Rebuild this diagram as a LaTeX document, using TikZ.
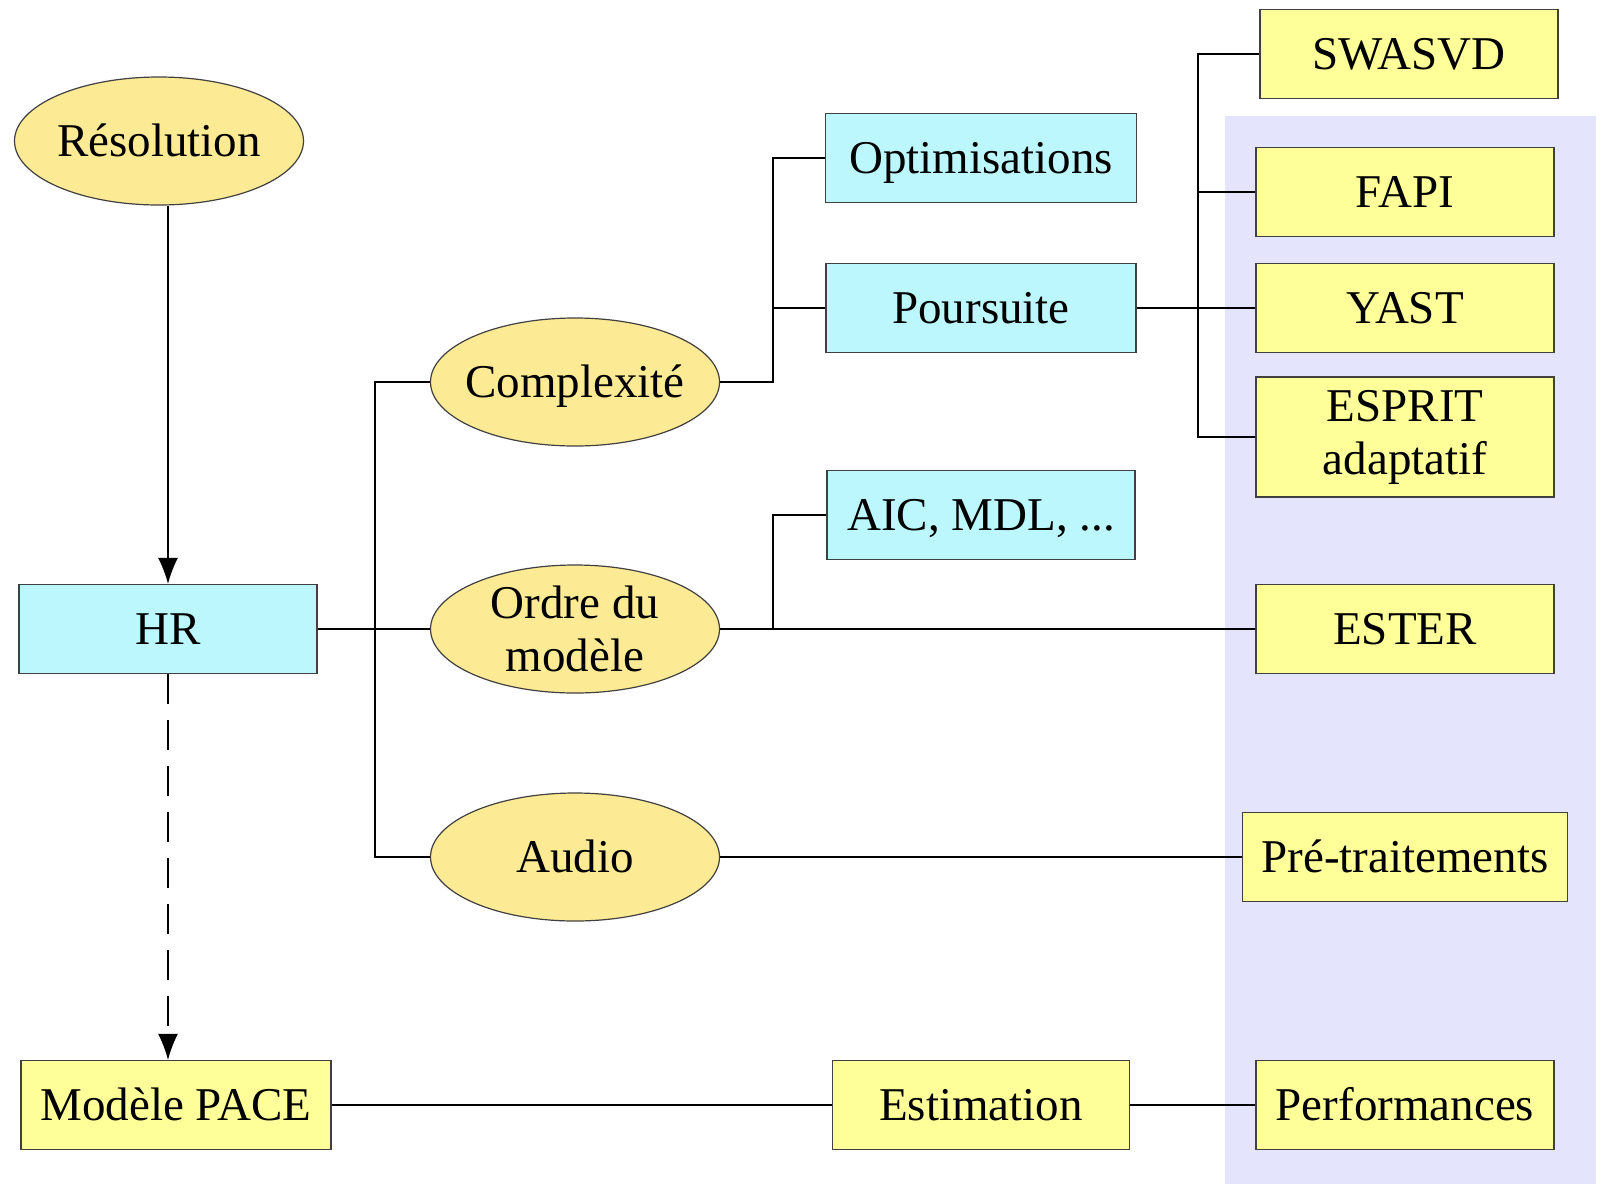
\documentclass[tikz,border=0pt]{standalone}
\usepackage{fontspec}
\setmainfont{Liberation Serif}
\usetikzlibrary{shapes.geometric,arrows.meta}

\definecolor{cyanbox}{RGB}{187,247,252}
\definecolor{yellowbox}{RGB}{255,255,153}
\definecolor{bubblefill}{RGB}{253,234,148}
\definecolor{lavender}{RGB}{228,228,252}

\tikzset{
  box/.style={draw=black!75, line width=1.2pt, minimum height=89, inner sep=0, align=center,
    text height=37pt, text depth=6pt},
  cbox/.style={box, fill=cyanbox},
  ybox/.style={box, fill=yellowbox},
  bubble/.style={ellipse, draw=black!75, line width=1.2pt, fill=bubblefill,
    minimum width=289, minimum height=128, inner sep=0},
  word/.style={text height=37pt, text depth=6pt},
  link/.style={line width=1.4pt},
  arr/.style={link, -{Latex[length=26pt,width=20pt]}}
}

\begin{document}
\begin{tikzpicture}[x=1pt, y=-1pt, font=\fontsize{47}{53}\selectfont]
    \useasboundingbox (0,0) rectangle (1602,1184);
    \fill[lavender] (1225,116) rectangle (1596,1184);

    % left column
    \node[bubble, label={[word]center:Résolution}] (resol) at (159,141) {};
    \node[cbox, minimum width=298] (hr) at (168,629) {HR};
    \node[ybox, minimum width=310] (pace) at (176,1105) {Modèle PACE};

    % ellipses
    \node[bubble, label={[word]center:Complexité}] (complex) at (575,382) {};
    \node[bubble, label={[align=center]center:Ordre du\\modèle}] (order) at (575,629) {};
    \node[bubble, label={[word]center:Audio}] (audio) at (575,857) {};

    % middle column
    \node[cbox, minimum width=311] (optim) at (981,158) {Optimisations};
    \node[cbox, minimum width=310] (pursuit) at (981,308) {Poursuite};
    \node[cbox, minimum width=308] (aic) at (981,515) {AIC, MDL, ...};
    \node[ybox, minimum width=297] (estim) at (981,1105) {Estimation};

    % right column
    \node[ybox, minimum width=298] (swasvd) at (1409,54) {SWASVD};
    \node[ybox, minimum width=298] (fapi) at (1405,192) {FAPI};
    \node[ybox, minimum width=298] (yast) at (1405,308) {YAST};
    \node[ybox, minimum width=298, minimum height=120, text height=, text depth=] (esprit) at (1405,437) {ESPRIT\\adaptatif};
    \node[ybox, minimum width=298] (ester) at (1405,629) {ESTER};
    \node[ybox, minimum width=325] (pretrait) at (1405,857) {Pré-traitements};
    \node[ybox, minimum width=298] (perf) at (1405,1105) {Performances};

    \coordinate (busA) at (375,629);
    \coordinate (busB) at (773,382);
    \coordinate (busC) at (773,629);
    \coordinate (busD) at (1198,308);

    % arrows
    \draw[arr] (hr.north |- resol.south) -- (hr.north);
    \draw[arr, dash pattern=on 30pt off 16pt] (hr.south) -- (hr.south |- pace.north);

    % connectors
    \draw[link] (hr.east) -- (order.west);
    \draw[link] (complex.west) -| (busA) |- (audio.west);
    \draw[link] (complex.east) -- (busB) |- (optim.west);
    \draw[link] (busB) |- (pursuit.west);
    \draw[link] (order.east) -- (ester.west);
    \draw[link] (busC) |- (aic.west);
    \draw[link] (pursuit.east) -- (yast.west);
    \draw[link] (swasvd.west) -| (busD) |- (esprit.west);
    \draw[link] (busD) |- (fapi.west);
    \draw[link] (audio.east) -- (pretrait.west);
    \draw[link] (pace.east) -- (estim.west);
    \draw[link] (estim.east) -- (perf.west);
\end{tikzpicture}
\end{document}
